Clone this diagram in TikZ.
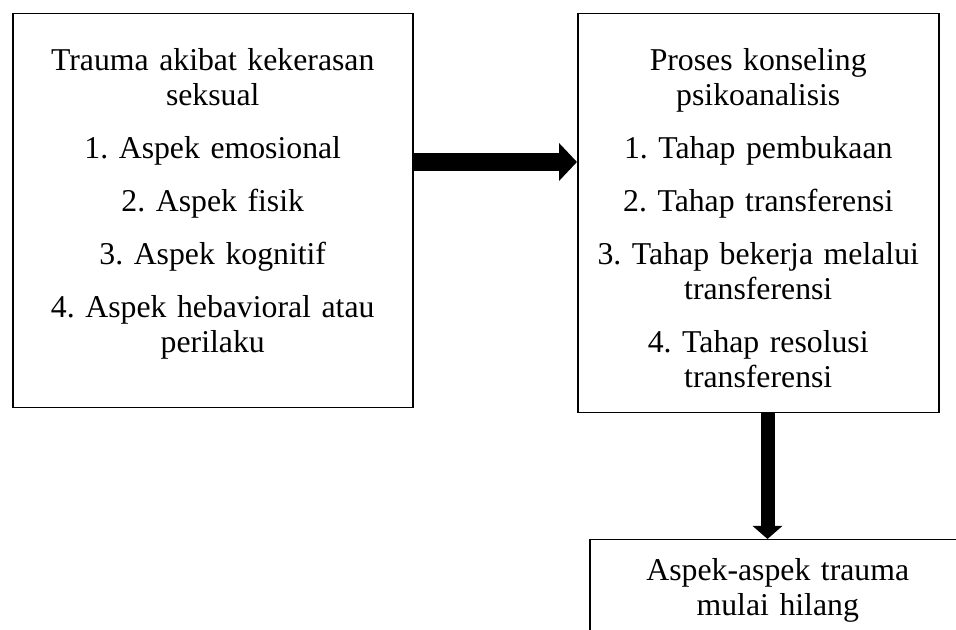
\documentclass[tikz,border=0pt]{standalone}
\usepackage{fontspec}
\setmainfont{Liberation Serif}
\usetikzlibrary{arrows.meta}
\frenchspacing

\begin{document}
\begin{tikzpicture}[x=0.4pt, y=-0.4pt,
  box/.style={draw, line width=0.6pt, inner sep=0pt, anchor=north west,
    align=center, font=\fontsize{12.7}{14}\selectfont, text height=22.8pt},
  harr/.style={line width=7.2pt, -{Triangle[length=7.2pt, width=14.8pt]}},
  varr/.style={line width=5.6pt, -{Triangle[length=5.2pt, width=11.6pt]}}
]
  \useasboundingbox (0,0) rectangle (956,630);
  \clip (0,0) rectangle (956,630);

  \node[box, text width=160pt, text depth=134.8pt] (trauma) at (12,13)
    {Trauma akibat kekerasan\\ seksual\\[7.2pt]
     1. Aspek emosional\\[7.2pt]
     2. Aspek fisik\\[7.2pt]
     3. Aspek kognitif\\[7.2pt]
     4. Aspek hebavioral atau\\ perilaku};
  \node[box, text width=144.4pt, text depth=136.8pt] (proses) at (577,13)
    {Proses konseling\\ psikoanalisis\\[7.2pt]
     1. Tahap pembukaan\\[7.2pt]
     2. Tahap transferensi\\[7.2pt]
     3. Tahap bekerja melalui\\ transferensi\\[7.2pt]
     4. Tahap resolusi\\ transferensi};
  \node[box, text width=150.4pt, text height=16.4pt, text depth=32pt] (hilang) at (589,539)
    {Aspek-aspek trauma\\ mulai hilang};

  % arrow lines
  \coordinate (h) at (0,162);
  \coordinate (v) at (767.5,0);
  \draw[harr] (trauma.east |- h) -- (proses.west |- h);
  \draw[varr] (proses.south -| v) -- (hilang.north -| v);
\end{tikzpicture}
\end{document}
